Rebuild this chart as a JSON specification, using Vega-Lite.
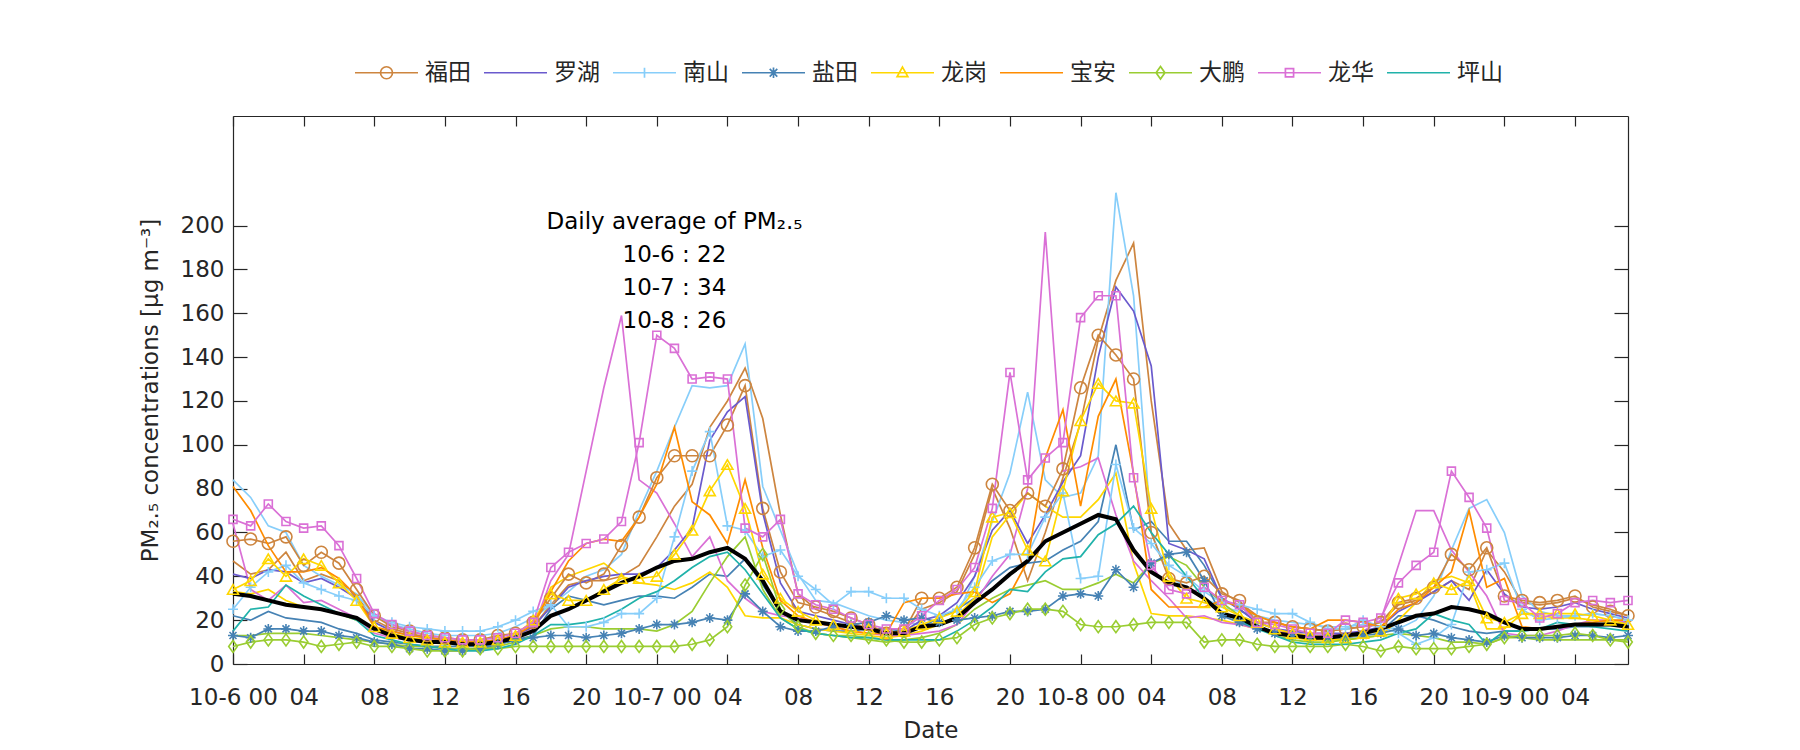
{
"$schema":"https://vega.github.io/schema/vega-lite/v6.json",
"width":1395,"height":548,"autosize":"none",
"padding":{"left":233,"top":116,"right":172,"bottom":86},
"background":"white",
"config":{"font":"DejaVu Sans","view":{"stroke":null},
"axis":{"domainColor":"#262626","tickColor":"#262626","labelColor":"#262626","titleColor":"#262626","labelFontSize":23,"titleFontSize":23,"titleFontWeight":"normal","grid":false,"labelFont":"DejaVu Sans","titleFont":"DejaVu Sans","domainWidth":1.2,"tickWidth":1.2}},
"datasets":{
"F1":[{"t":0,"v":56},{"t":1,"v":57},{"t":2,"v":55},{"t":3,"v":58},{"t":4,"v":45},{"t":5,"v":51},{"t":6,"v":46},{"t":7,"v":34},{"t":8,"v":22},{"t":9,"v":17},{"t":10,"v":15},{"t":11,"v":13},{"t":12,"v":12},{"t":13,"v":11},{"t":14,"v":11},{"t":15,"v":13},{"t":16,"v":14},{"t":17,"v":19},{"t":18,"v":30},{"t":19,"v":41},{"t":20,"v":37},{"t":21,"v":41},{"t":22,"v":54},{"t":23,"v":67},{"t":24,"v":85},{"t":25,"v":95},{"t":26,"v":95},{"t":27,"v":95},{"t":28,"v":109},{"t":29,"v":127},{"t":30,"v":71},{"t":31,"v":42},{"t":32,"v":28},{"t":33,"v":26},{"t":34,"v":24},{"t":35,"v":21},{"t":36,"v":18},{"t":37,"v":14},{"t":38,"v":15},{"t":39,"v":30},{"t":40,"v":30},{"t":41,"v":35},{"t":42,"v":53},{"t":43,"v":82},{"t":44,"v":70},{"t":45,"v":78},{"t":46,"v":72},{"t":47,"v":89},{"t":48,"v":126},{"t":49,"v":150},{"t":50,"v":141},{"t":51,"v":130},{"t":52,"v":60},{"t":53,"v":39},{"t":54,"v":37},{"t":55,"v":40},{"t":56,"v":32},{"t":57,"v":29},{"t":58,"v":19},{"t":59,"v":19},{"t":60,"v":17},{"t":61,"v":16},{"t":62,"v":15},{"t":63,"v":16},{"t":64,"v":17},{"t":65,"v":19},{"t":66,"v":28},{"t":67,"v":30},{"t":68,"v":35},{"t":69,"v":50},{"t":70,"v":43},{"t":71,"v":53},{"t":72,"v":31},{"t":73,"v":29},{"t":74,"v":28},{"t":75,"v":29},{"t":76,"v":31},{"t":77,"v":26},{"t":78,"v":24},{"t":79,"v":22}],
"F2":[{"t":0,"v":47},{"t":1,"v":41},{"t":2,"v":43},{"t":3,"v":51},{"t":4,"v":38},{"t":5,"v":41},{"t":6,"v":38},{"t":7,"v":31},{"t":8,"v":20},{"t":9,"v":16},{"t":10,"v":14},{"t":11,"v":12},{"t":12,"v":11},{"t":13,"v":10},{"t":14,"v":10},{"t":15,"v":11},{"t":16,"v":13},{"t":17,"v":17},{"t":18,"v":27},{"t":19,"v":36},{"t":20,"v":38},{"t":21,"v":38},{"t":22,"v":40},{"t":23,"v":45},{"t":24,"v":58},{"t":25,"v":72},{"t":26,"v":82},{"t":27,"v":108},{"t":28,"v":120},{"t":29,"v":135},{"t":30,"v":112},{"t":31,"v":68},{"t":32,"v":32},{"t":33,"v":25},{"t":34,"v":22},{"t":35,"v":19},{"t":36,"v":16},{"t":37,"v":14},{"t":38,"v":15},{"t":39,"v":25},{"t":40,"v":28},{"t":41,"v":33},{"t":42,"v":50},{"t":43,"v":80},{"t":44,"v":62},{"t":45,"v":38},{"t":46,"v":60},{"t":47,"v":85},{"t":48,"v":110},{"t":49,"v":148},{"t":50,"v":175},{"t":51,"v":192},{"t":52,"v":120},{"t":53,"v":64},{"t":54,"v":52},{"t":55,"v":53},{"t":56,"v":33},{"t":57,"v":28},{"t":58,"v":22},{"t":59,"v":19},{"t":60,"v":17},{"t":61,"v":16},{"t":62,"v":15},{"t":63,"v":16},{"t":64,"v":17},{"t":65,"v":19},{"t":66,"v":27},{"t":67,"v":29},{"t":68,"v":33},{"t":69,"v":38},{"t":70,"v":34},{"t":71,"v":52},{"t":72,"v":42},{"t":73,"v":28},{"t":74,"v":27},{"t":75,"v":28},{"t":76,"v":30},{"t":77,"v":27},{"t":78,"v":25},{"t":79,"v":22}],
"L":[{"t":0,"v":41},{"t":1,"v":39},{"t":2,"v":43},{"t":3,"v":42},{"t":4,"v":37},{"t":5,"v":39},{"t":6,"v":35},{"t":7,"v":30},{"t":8,"v":19},{"t":9,"v":15},{"t":10,"v":13},{"t":11,"v":12},{"t":12,"v":11},{"t":13,"v":10},{"t":14,"v":10},{"t":15,"v":11},{"t":16,"v":13},{"t":17,"v":17},{"t":18,"v":26},{"t":19,"v":35},{"t":20,"v":38},{"t":21,"v":40},{"t":22,"v":41},{"t":23,"v":41},{"t":24,"v":44},{"t":25,"v":52},{"t":26,"v":62},{"t":27,"v":102},{"t":28,"v":115},{"t":29,"v":122},{"t":30,"v":69},{"t":31,"v":37},{"t":32,"v":24},{"t":33,"v":22},{"t":34,"v":20},{"t":35,"v":18},{"t":36,"v":16},{"t":37,"v":14},{"t":38,"v":15},{"t":39,"v":20},{"t":40,"v":22},{"t":41,"v":28},{"t":42,"v":40},{"t":43,"v":61},{"t":44,"v":70},{"t":45,"v":55},{"t":46,"v":68},{"t":47,"v":83},{"t":48,"v":95},{"t":49,"v":140},{"t":50,"v":172},{"t":51,"v":161},{"t":52,"v":136},{"t":53,"v":55},{"t":54,"v":52},{"t":55,"v":48},{"t":56,"v":30},{"t":57,"v":25},{"t":58,"v":19},{"t":59,"v":16},{"t":60,"v":15},{"t":61,"v":14},{"t":62,"v":14},{"t":63,"v":14},{"t":64,"v":15},{"t":65,"v":17},{"t":66,"v":24},{"t":67,"v":28},{"t":68,"v":33},{"t":69,"v":38},{"t":70,"v":29},{"t":71,"v":43},{"t":72,"v":32},{"t":73,"v":26},{"t":74,"v":25},{"t":75,"v":26},{"t":76,"v":28},{"t":77,"v":25},{"t":78,"v":23},{"t":79,"v":21}],
"N1":[{"t":0,"v":25},{"t":1,"v":35},{"t":2,"v":42},{"t":3,"v":45},{"t":4,"v":37},{"t":5,"v":34},{"t":6,"v":31},{"t":7,"v":29},{"t":8,"v":22},{"t":9,"v":19},{"t":10,"v":17},{"t":11,"v":16},{"t":12,"v":15},{"t":13,"v":15},{"t":14,"v":15},{"t":15,"v":17},{"t":16,"v":20},{"t":17,"v":24},{"t":18,"v":27},{"t":19,"v":17},{"t":20,"v":17},{"t":21,"v":19},{"t":22,"v":23},{"t":23,"v":23},{"t":24,"v":30},{"t":25,"v":58},{"t":26,"v":88},{"t":27,"v":106},{"t":28,"v":63},{"t":29,"v":61},{"t":30,"v":49},{"t":31,"v":52},{"t":32,"v":40},{"t":33,"v":34},{"t":34,"v":27},{"t":35,"v":33},{"t":36,"v":33},{"t":37,"v":30},{"t":38,"v":30},{"t":39,"v":25},{"t":40,"v":22},{"t":41,"v":25},{"t":42,"v":35},{"t":43,"v":47},{"t":44,"v":50},{"t":45,"v":50},{"t":46,"v":67},{"t":47,"v":78},{"t":48,"v":39},{"t":49,"v":40},{"t":50,"v":91},{"t":51,"v":62},{"t":52,"v":55},{"t":53,"v":45},{"t":54,"v":40},{"t":55,"v":33},{"t":56,"v":28},{"t":57,"v":27},{"t":58,"v":25},{"t":59,"v":23},{"t":60,"v":23},{"t":61,"v":19},{"t":62,"v":16},{"t":63,"v":16},{"t":64,"v":20},{"t":65,"v":17},{"t":66,"v":14},{"t":67,"v":9},{"t":68,"v":12},{"t":69,"v":18},{"t":70,"v":42},{"t":71,"v":43},{"t":72,"v":46},{"t":73,"v":25},{"t":74,"v":20},{"t":75,"v":21},{"t":76,"v":22},{"t":77,"v":23},{"t":78,"v":22},{"t":79,"v":20}],
"N2":[{"t":0,"v":84},{"t":1,"v":76},{"t":2,"v":63},{"t":3,"v":60},{"t":4,"v":45},{"t":5,"v":40},{"t":6,"v":36},{"t":7,"v":32},{"t":8,"v":22},{"t":9,"v":18},{"t":10,"v":16},{"t":11,"v":14},{"t":12,"v":13},{"t":13,"v":13},{"t":14,"v":13},{"t":15,"v":14},{"t":16,"v":17},{"t":17,"v":21},{"t":18,"v":27},{"t":19,"v":33},{"t":20,"v":40},{"t":21,"v":43},{"t":22,"v":50},{"t":23,"v":70},{"t":24,"v":88},{"t":25,"v":108},{"t":26,"v":127},{"t":27,"v":126},{"t":28,"v":127},{"t":29,"v":146},{"t":30,"v":81},{"t":31,"v":61},{"t":32,"v":41},{"t":33,"v":29},{"t":34,"v":28},{"t":35,"v":25},{"t":36,"v":22},{"t":37,"v":20},{"t":38,"v":19},{"t":39,"v":18},{"t":40,"v":18},{"t":41,"v":22},{"t":42,"v":40},{"t":43,"v":65},{"t":44,"v":87},{"t":45,"v":124},{"t":46,"v":84},{"t":47,"v":76},{"t":48,"v":78},{"t":49,"v":95},{"t":50,"v":215},{"t":51,"v":168},{"t":52,"v":60},{"t":53,"v":40},{"t":54,"v":35},{"t":55,"v":30},{"t":56,"v":26},{"t":57,"v":24},{"t":58,"v":22},{"t":59,"v":20},{"t":60,"v":19},{"t":61,"v":18},{"t":62,"v":17},{"t":63,"v":17},{"t":64,"v":18},{"t":65,"v":17},{"t":66,"v":16},{"t":67,"v":20},{"t":68,"v":31},{"t":69,"v":52},{"t":70,"v":71},{"t":71,"v":75},{"t":72,"v":60},{"t":73,"v":31},{"t":74,"v":24},{"t":75,"v":22},{"t":76,"v":22},{"t":77,"v":23},{"t":78,"v":22},{"t":79,"v":20}],
"Y1":[{"t":0,"v":13},{"t":1,"v":12},{"t":2,"v":16},{"t":3,"v":16},{"t":4,"v":15},{"t":5,"v":15},{"t":6,"v":13},{"t":7,"v":12},{"t":8,"v":10},{"t":9,"v":9},{"t":10,"v":7},{"t":11,"v":7},{"t":12,"v":6},{"t":13,"v":6},{"t":14,"v":7},{"t":15,"v":9},{"t":16,"v":11},{"t":17,"v":12},{"t":18,"v":13},{"t":19,"v":13},{"t":20,"v":12},{"t":21,"v":13},{"t":22,"v":14},{"t":23,"v":16},{"t":24,"v":18},{"t":25,"v":18},{"t":26,"v":19},{"t":27,"v":21},{"t":28,"v":20},{"t":29,"v":32},{"t":30,"v":24},{"t":31,"v":17},{"t":32,"v":15},{"t":33,"v":15},{"t":34,"v":17},{"t":35,"v":18},{"t":36,"v":19},{"t":37,"v":22},{"t":38,"v":20},{"t":39,"v":21},{"t":40,"v":19},{"t":41,"v":20},{"t":42,"v":21},{"t":43,"v":22},{"t":44,"v":24},{"t":45,"v":24},{"t":46,"v":25},{"t":47,"v":31},{"t":48,"v":32},{"t":49,"v":31},{"t":50,"v":43},{"t":51,"v":35},{"t":52,"v":46},{"t":53,"v":50},{"t":54,"v":51},{"t":55,"v":38},{"t":56,"v":22},{"t":57,"v":19},{"t":58,"v":16},{"t":59,"v":14},{"t":60,"v":13},{"t":61,"v":12},{"t":62,"v":12},{"t":63,"v":12},{"t":64,"v":13},{"t":65,"v":14},{"t":66,"v":16},{"t":67,"v":13},{"t":68,"v":14},{"t":69,"v":12},{"t":70,"v":11},{"t":71,"v":10},{"t":72,"v":13},{"t":73,"v":12},{"t":74,"v":12},{"t":75,"v":12},{"t":76,"v":13},{"t":77,"v":13},{"t":78,"v":12},{"t":79,"v":13}],
"Y2":[{"t":0,"v":22},{"t":1,"v":20},{"t":2,"v":24},{"t":3,"v":21},{"t":4,"v":20},{"t":5,"v":19},{"t":6,"v":16},{"t":7,"v":14},{"t":8,"v":11},{"t":9,"v":10},{"t":10,"v":9},{"t":11,"v":8},{"t":12,"v":8},{"t":13,"v":8},{"t":14,"v":8},{"t":15,"v":9},{"t":16,"v":11},{"t":17,"v":13},{"t":18,"v":25},{"t":19,"v":31},{"t":20,"v":29},{"t":21,"v":27},{"t":22,"v":29},{"t":23,"v":31},{"t":24,"v":31},{"t":25,"v":30},{"t":26,"v":35},{"t":27,"v":41},{"t":28,"v":40},{"t":29,"v":48},{"t":30,"v":36},{"t":31,"v":24},{"t":32,"v":18},{"t":33,"v":16},{"t":34,"v":15},{"t":35,"v":15},{"t":36,"v":16},{"t":37,"v":16},{"t":38,"v":15},{"t":39,"v":17},{"t":40,"v":21},{"t":41,"v":25},{"t":42,"v":30},{"t":43,"v":38},{"t":44,"v":44},{"t":45,"v":46},{"t":46,"v":47},{"t":47,"v":52},{"t":48,"v":56},{"t":49,"v":65},{"t":50,"v":100},{"t":51,"v":61},{"t":52,"v":65},{"t":53,"v":56},{"t":54,"v":56},{"t":55,"v":45},{"t":56,"v":30},{"t":57,"v":25},{"t":58,"v":19},{"t":59,"v":16},{"t":60,"v":14},{"t":61,"v":13},{"t":62,"v":13},{"t":63,"v":13},{"t":64,"v":14},{"t":65,"v":15},{"t":66,"v":22},{"t":67,"v":22},{"t":68,"v":20},{"t":69,"v":17},{"t":70,"v":15},{"t":71,"v":14},{"t":72,"v":15},{"t":73,"v":15},{"t":74,"v":16},{"t":75,"v":16},{"t":76,"v":17},{"t":77,"v":17},{"t":78,"v":18},{"t":79,"v":19}],
"G1":[{"t":0,"v":34},{"t":1,"v":38},{"t":2,"v":48},{"t":3,"v":40},{"t":4,"v":48},{"t":5,"v":45},{"t":6,"v":37},{"t":7,"v":29},{"t":8,"v":17},{"t":9,"v":14},{"t":10,"v":12},{"t":11,"v":11},{"t":12,"v":10},{"t":13,"v":10},{"t":14,"v":10},{"t":15,"v":11},{"t":16,"v":13},{"t":17,"v":20},{"t":18,"v":32},{"t":19,"v":29},{"t":20,"v":29},{"t":21,"v":34},{"t":22,"v":39},{"t":23,"v":39},{"t":24,"v":40},{"t":25,"v":50},{"t":26,"v":61},{"t":27,"v":79},{"t":28,"v":91},{"t":29,"v":71},{"t":30,"v":41},{"t":31,"v":30},{"t":32,"v":24},{"t":33,"v":20},{"t":34,"v":18},{"t":35,"v":17},{"t":36,"v":16},{"t":37,"v":14},{"t":38,"v":15},{"t":39,"v":18},{"t":40,"v":21},{"t":41,"v":24},{"t":42,"v":33},{"t":43,"v":67},{"t":44,"v":69},{"t":45,"v":52},{"t":46,"v":47},{"t":47,"v":79},{"t":48,"v":111},{"t":49,"v":128},{"t":50,"v":120},{"t":51,"v":119},{"t":52,"v":71},{"t":53,"v":40},{"t":54,"v":30},{"t":55,"v":28},{"t":56,"v":26},{"t":57,"v":22},{"t":58,"v":19},{"t":59,"v":16},{"t":60,"v":14},{"t":61,"v":13},{"t":62,"v":12},{"t":63,"v":12},{"t":64,"v":14},{"t":65,"v":15},{"t":66,"v":30},{"t":67,"v":32},{"t":68,"v":37},{"t":69,"v":34},{"t":70,"v":38},{"t":71,"v":21},{"t":72,"v":19},{"t":73,"v":23},{"t":74,"v":23},{"t":75,"v":23},{"t":76,"v":23},{"t":77,"v":22},{"t":78,"v":20},{"t":79,"v":18}],
"G2":[{"t":0,"v":33},{"t":1,"v":32},{"t":2,"v":34},{"t":3,"v":29},{"t":4,"v":26},{"t":5,"v":25},{"t":6,"v":23},{"t":7,"v":20},{"t":8,"v":16},{"t":9,"v":13},{"t":10,"v":11},{"t":11,"v":10},{"t":12,"v":9},{"t":13,"v":9},{"t":14,"v":9},{"t":15,"v":10},{"t":16,"v":12},{"t":17,"v":16},{"t":18,"v":35},{"t":19,"v":40},{"t":20,"v":43},{"t":21,"v":46},{"t":22,"v":40},{"t":23,"v":37},{"t":24,"v":36},{"t":25,"v":34},{"t":26,"v":37},{"t":27,"v":42},{"t":28,"v":35},{"t":29,"v":22},{"t":30,"v":21},{"t":31,"v":21},{"t":32,"v":18},{"t":33,"v":16},{"t":34,"v":15},{"t":35,"v":14},{"t":36,"v":13},{"t":37,"v":12},{"t":38,"v":13},{"t":39,"v":15},{"t":40,"v":18},{"t":41,"v":22},{"t":42,"v":30},{"t":43,"v":58},{"t":44,"v":68},{"t":45,"v":78},{"t":46,"v":72},{"t":47,"v":67},{"t":48,"v":67},{"t":49,"v":75},{"t":50,"v":87},{"t":51,"v":46},{"t":52,"v":23},{"t":53,"v":22},{"t":54,"v":22},{"t":55,"v":21},{"t":56,"v":20},{"t":57,"v":18},{"t":58,"v":16},{"t":59,"v":14},{"t":60,"v":12},{"t":61,"v":11},{"t":62,"v":11},{"t":63,"v":11},{"t":64,"v":12},{"t":65,"v":13},{"t":66,"v":20},{"t":67,"v":28},{"t":68,"v":38},{"t":69,"v":40},{"t":70,"v":37},{"t":71,"v":16},{"t":72,"v":16},{"t":73,"v":23},{"t":74,"v":22},{"t":75,"v":21},{"t":76,"v":21},{"t":77,"v":20},{"t":78,"v":19},{"t":79,"v":18}],
"B":[{"t":0,"v":81},{"t":1,"v":70},{"t":2,"v":54},{"t":3,"v":42},{"t":4,"v":42},{"t":5,"v":44},{"t":6,"v":39},{"t":7,"v":31},{"t":8,"v":17},{"t":9,"v":15},{"t":10,"v":13},{"t":11,"v":12},{"t":12,"v":11},{"t":13,"v":10},{"t":14,"v":10},{"t":15,"v":11},{"t":16,"v":13},{"t":17,"v":18},{"t":18,"v":33},{"t":19,"v":47},{"t":20,"v":55},{"t":21,"v":57},{"t":22,"v":56},{"t":23,"v":67},{"t":24,"v":82},{"t":25,"v":108},{"t":26,"v":74},{"t":27,"v":68},{"t":28,"v":55},{"t":29,"v":84},{"t":30,"v":53},{"t":31,"v":29},{"t":32,"v":22},{"t":33,"v":19},{"t":34,"v":17},{"t":35,"v":15},{"t":36,"v":14},{"t":37,"v":14},{"t":38,"v":28},{"t":39,"v":30},{"t":40,"v":30},{"t":41,"v":32},{"t":42,"v":33},{"t":43,"v":28},{"t":44,"v":32},{"t":45,"v":47},{"t":46,"v":94},{"t":47,"v":116},{"t":48,"v":72},{"t":49,"v":113},{"t":50,"v":130},{"t":51,"v":87},{"t":52,"v":34},{"t":53,"v":26},{"t":54,"v":26},{"t":55,"v":26},{"t":56,"v":29},{"t":57,"v":26},{"t":58,"v":22},{"t":59,"v":19},{"t":60,"v":17},{"t":61,"v":16},{"t":62,"v":20},{"t":63,"v":20},{"t":64,"v":19},{"t":65,"v":17},{"t":66,"v":25},{"t":67,"v":28},{"t":68,"v":35},{"t":69,"v":42},{"t":70,"v":70},{"t":71,"v":35},{"t":72,"v":39},{"t":73,"v":17},{"t":74,"v":16},{"t":75,"v":17},{"t":76,"v":18},{"t":77,"v":19},{"t":78,"v":20},{"t":79,"v":20}],
"D1":[{"t":0,"v":8},{"t":1,"v":10},{"t":2,"v":11},{"t":3,"v":11},{"t":4,"v":10},{"t":5,"v":8},{"t":6,"v":9},{"t":7,"v":10},{"t":8,"v":8},{"t":9,"v":8},{"t":10,"v":7},{"t":11,"v":6},{"t":12,"v":6},{"t":13,"v":6},{"t":14,"v":7},{"t":15,"v":7},{"t":16,"v":8},{"t":17,"v":8},{"t":18,"v":8},{"t":19,"v":8},{"t":20,"v":8},{"t":21,"v":8},{"t":22,"v":8},{"t":23,"v":8},{"t":24,"v":8},{"t":25,"v":8},{"t":26,"v":9},{"t":27,"v":11},{"t":28,"v":17},{"t":29,"v":36},{"t":30,"v":50},{"t":31,"v":25},{"t":32,"v":17},{"t":33,"v":14},{"t":34,"v":13},{"t":35,"v":13},{"t":36,"v":12},{"t":37,"v":11},{"t":38,"v":10},{"t":39,"v":10},{"t":40,"v":11},{"t":41,"v":12},{"t":42,"v":18},{"t":43,"v":21},{"t":44,"v":23},{"t":45,"v":25},{"t":46,"v":25},{"t":47,"v":24},{"t":48,"v":18},{"t":49,"v":17},{"t":50,"v":17},{"t":51,"v":18},{"t":52,"v":19},{"t":53,"v":19},{"t":54,"v":19},{"t":55,"v":10},{"t":56,"v":11},{"t":57,"v":11},{"t":58,"v":9},{"t":59,"v":8},{"t":60,"v":8},{"t":61,"v":8},{"t":62,"v":8},{"t":63,"v":9},{"t":64,"v":8},{"t":65,"v":6},{"t":66,"v":8},{"t":67,"v":7},{"t":68,"v":7},{"t":69,"v":7},{"t":70,"v":8},{"t":71,"v":9},{"t":72,"v":12},{"t":73,"v":13},{"t":74,"v":13},{"t":75,"v":13},{"t":76,"v":14},{"t":77,"v":13},{"t":78,"v":11},{"t":79,"v":10}],
"D2":[{"t":0,"v":13},{"t":1,"v":13},{"t":2,"v":14},{"t":3,"v":14},{"t":4,"v":14},{"t":5,"v":13},{"t":6,"v":12},{"t":7,"v":11},{"t":8,"v":10},{"t":9,"v":9},{"t":10,"v":8},{"t":11,"v":8},{"t":12,"v":7},{"t":13,"v":7},{"t":14,"v":7},{"t":15,"v":8},{"t":16,"v":10},{"t":17,"v":13},{"t":18,"v":16},{"t":19,"v":17},{"t":20,"v":17},{"t":21,"v":16},{"t":22,"v":16},{"t":23,"v":16},{"t":24,"v":15},{"t":25,"v":18},{"t":26,"v":24},{"t":27,"v":37},{"t":28,"v":49},{"t":29,"v":58},{"t":30,"v":34},{"t":31,"v":21},{"t":32,"v":16},{"t":33,"v":14},{"t":34,"v":13},{"t":35,"v":12},{"t":36,"v":11},{"t":37,"v":10},{"t":38,"v":11},{"t":39,"v":12},{"t":40,"v":14},{"t":41,"v":18},{"t":42,"v":25},{"t":43,"v":30},{"t":44,"v":34},{"t":45,"v":36},{"t":46,"v":38},{"t":47,"v":34},{"t":48,"v":34},{"t":49,"v":37},{"t":50,"v":41},{"t":51,"v":37},{"t":52,"v":46},{"t":53,"v":49},{"t":54,"v":45},{"t":55,"v":35},{"t":56,"v":28},{"t":57,"v":22},{"t":58,"v":18},{"t":59,"v":13},{"t":60,"v":11},{"t":61,"v":10},{"t":62,"v":10},{"t":63,"v":11},{"t":64,"v":12},{"t":65,"v":13},{"t":66,"v":14},{"t":67,"v":13},{"t":68,"v":12},{"t":69,"v":10},{"t":70,"v":10},{"t":71,"v":9},{"t":72,"v":12},{"t":73,"v":12},{"t":74,"v":11},{"t":75,"v":11},{"t":76,"v":11},{"t":77,"v":11},{"t":78,"v":11},{"t":79,"v":11}],
"H1":[{"t":0,"v":66},{"t":1,"v":63},{"t":2,"v":73},{"t":3,"v":65},{"t":4,"v":62},{"t":5,"v":63},{"t":6,"v":54},{"t":7,"v":39},{"t":8,"v":23},{"t":9,"v":18},{"t":10,"v":15},{"t":11,"v":13},{"t":12,"v":12},{"t":13,"v":11},{"t":14,"v":11},{"t":15,"v":12},{"t":16,"v":14},{"t":17,"v":19},{"t":18,"v":44},{"t":19,"v":51},{"t":20,"v":55},{"t":21,"v":57},{"t":22,"v":65},{"t":23,"v":101},{"t":24,"v":150},{"t":25,"v":144},{"t":26,"v":130},{"t":27,"v":131},{"t":28,"v":130},{"t":29,"v":62},{"t":30,"v":58},{"t":31,"v":66},{"t":32,"v":32},{"t":33,"v":27},{"t":34,"v":25},{"t":35,"v":21},{"t":36,"v":18},{"t":37,"v":16},{"t":38,"v":16},{"t":39,"v":22},{"t":40,"v":29},{"t":41,"v":34},{"t":42,"v":44},{"t":43,"v":71},{"t":44,"v":133},{"t":45,"v":84},{"t":46,"v":94},{"t":47,"v":101},{"t":48,"v":158},{"t":49,"v":168},{"t":50,"v":168},{"t":51,"v":85},{"t":52,"v":45},{"t":53,"v":34},{"t":54,"v":32},{"t":55,"v":35},{"t":56,"v":29},{"t":57,"v":27},{"t":58,"v":19},{"t":59,"v":18},{"t":60,"v":16},{"t":61,"v":14},{"t":62,"v":14},{"t":63,"v":20},{"t":64,"v":19},{"t":65,"v":21},{"t":66,"v":37},{"t":67,"v":45},{"t":68,"v":51},{"t":69,"v":88},{"t":70,"v":76},{"t":71,"v":62},{"t":72,"v":29},{"t":73,"v":28},{"t":74,"v":21},{"t":75,"v":23},{"t":76,"v":28},{"t":77,"v":29},{"t":78,"v":28},{"t":79,"v":29}],
"H2":[{"t":0,"v":64},{"t":1,"v":34},{"t":2,"v":29},{"t":3,"v":36},{"t":4,"v":28},{"t":5,"v":29},{"t":6,"v":25},{"t":7,"v":21},{"t":8,"v":14},{"t":9,"v":12},{"t":10,"v":11},{"t":11,"v":10},{"t":12,"v":10},{"t":13,"v":9},{"t":14,"v":9},{"t":15,"v":10},{"t":16,"v":12},{"t":17,"v":16},{"t":18,"v":38},{"t":19,"v":50},{"t":20,"v":88},{"t":21,"v":126},{"t":22,"v":159},{"t":23,"v":84},{"t":24,"v":78},{"t":25,"v":64},{"t":26,"v":49},{"t":27,"v":58},{"t":28,"v":38},{"t":29,"v":30},{"t":30,"v":24},{"t":31,"v":22},{"t":32,"v":21},{"t":33,"v":19},{"t":34,"v":17},{"t":35,"v":15},{"t":36,"v":14},{"t":37,"v":13},{"t":38,"v":13},{"t":39,"v":14},{"t":40,"v":15},{"t":41,"v":18},{"t":42,"v":28},{"t":43,"v":40},{"t":44,"v":50},{"t":45,"v":80},{"t":46,"v":197},{"t":47,"v":88},{"t":48,"v":90},{"t":49,"v":94},{"t":50,"v":68},{"t":51,"v":47},{"t":52,"v":38},{"t":53,"v":30},{"t":54,"v":21},{"t":55,"v":22},{"t":56,"v":19},{"t":57,"v":18},{"t":58,"v":16},{"t":59,"v":15},{"t":60,"v":14},{"t":61,"v":13},{"t":62,"v":13},{"t":63,"v":14},{"t":64,"v":15},{"t":65,"v":20},{"t":66,"v":45},{"t":67,"v":70},{"t":68,"v":70},{"t":69,"v":52},{"t":70,"v":42},{"t":71,"v":31},{"t":72,"v":14},{"t":73,"v":13},{"t":74,"v":13},{"t":75,"v":15},{"t":76,"v":18},{"t":77,"v":20},{"t":78,"v":20},{"t":79,"v":19}],
"P":[{"t":0,"v":15},{"t":1,"v":25},{"t":2,"v":26},{"t":3,"v":36},{"t":4,"v":31},{"t":5,"v":27},{"t":6,"v":23},{"t":7,"v":20},{"t":8,"v":13},{"t":9,"v":11},{"t":10,"v":9},{"t":11,"v":8},{"t":12,"v":7},{"t":13,"v":6},{"t":14,"v":6},{"t":15,"v":7},{"t":16,"v":9},{"t":17,"v":13},{"t":18,"v":18},{"t":19,"v":18},{"t":20,"v":19},{"t":21,"v":21},{"t":22,"v":25},{"t":23,"v":30},{"t":24,"v":33},{"t":25,"v":38},{"t":26,"v":44},{"t":27,"v":49},{"t":28,"v":51},{"t":29,"v":43},{"t":30,"v":32},{"t":31,"v":21},{"t":32,"v":16},{"t":33,"v":14},{"t":34,"v":13},{"t":35,"v":12},{"t":36,"v":12},{"t":37,"v":11},{"t":38,"v":11},{"t":39,"v":11},{"t":40,"v":11},{"t":41,"v":15},{"t":42,"v":20},{"t":43,"v":26},{"t":44,"v":34},{"t":45,"v":33},{"t":46,"v":42},{"t":47,"v":48},{"t":48,"v":49},{"t":49,"v":59},{"t":50,"v":64},{"t":51,"v":72},{"t":52,"v":60},{"t":53,"v":50},{"t":54,"v":40},{"t":55,"v":30},{"t":56,"v":23},{"t":57,"v":20},{"t":58,"v":16},{"t":59,"v":13},{"t":60,"v":10},{"t":61,"v":9},{"t":62,"v":9},{"t":63,"v":9},{"t":64,"v":10},{"t":65,"v":11},{"t":66,"v":14},{"t":67,"v":16},{"t":68,"v":23},{"t":69,"v":20},{"t":70,"v":18},{"t":71,"v":9},{"t":72,"v":15},{"t":73,"v":15},{"t":74,"v":16},{"t":75,"v":19},{"t":76,"v":18},{"t":77,"v":17},{"t":78,"v":16},{"t":79,"v":15}],
"AVG":[{"t":0,"v":32},{"t":1,"v":31},{"t":2,"v":29},{"t":3,"v":27},{"t":4,"v":26},{"t":5,"v":25},{"t":6,"v":23},{"t":7,"v":21},{"t":8,"v":16},{"t":9,"v":13},{"t":10,"v":11},{"t":11,"v":10},{"t":12,"v":10},{"t":13,"v":9},{"t":14,"v":9},{"t":15,"v":10},{"t":16,"v":12},{"t":17,"v":15},{"t":18,"v":22},{"t":19,"v":25},{"t":20,"v":29},{"t":21,"v":33},{"t":22,"v":37},{"t":23,"v":40},{"t":24,"v":44},{"t":25,"v":47},{"t":26,"v":48},{"t":27,"v":51},{"t":28,"v":53},{"t":29,"v":48},{"t":30,"v":38},{"t":31,"v":24},{"t":32,"v":20},{"t":33,"v":19},{"t":34,"v":18},{"t":35,"v":17},{"t":36,"v":16},{"t":37,"v":14},{"t":38,"v":14},{"t":39,"v":17},{"t":40,"v":18},{"t":41,"v":21},{"t":42,"v":28},{"t":43,"v":34},{"t":44,"v":41},{"t":45,"v":47},{"t":46,"v":56},{"t":47,"v":60},{"t":48,"v":64},{"t":49,"v":68},{"t":50,"v":66},{"t":51,"v":52},{"t":52,"v":42},{"t":53,"v":37},{"t":54,"v":35},{"t":55,"v":30},{"t":56,"v":23},{"t":57,"v":21},{"t":58,"v":17},{"t":59,"v":14},{"t":60,"v":13},{"t":61,"v":12},{"t":62,"v":12},{"t":63,"v":13},{"t":64,"v":14},{"t":65,"v":16},{"t":66,"v":19},{"t":67,"v":22},{"t":68,"v":23},{"t":69,"v":26},{"t":70,"v":25},{"t":71,"v":23},{"t":72,"v":19},{"t":73,"v":16},{"t":74,"v":16},{"t":75,"v":17},{"t":76,"v":18},{"t":77,"v":18},{"t":78,"v":18},{"t":79,"v":17}],
"NOTE":[{"line":"Daily average of PM₂.₅","k":0},{"line":"10-6 : 22","k":1},{"line":"10-7 : 34","k":2},{"line":"10-8 : 26","k":3}]
},
"layer":[
{"encoding":{
"x":{"field":"t","type":"quantitative","scale":{"domain":[0,79],"nice":false,"zero":false},
"axis":{"values":[0,4,8,12,16,20,24,28,32,36,40,44,48,52,56,60,64,68,72,76],"labelExpr":"datum.value % 24 == 0 ? '10-' + (6 + datum.value / 24) + ' 00' : (datum.value % 24 < 10 ? '0' : '') + (datum.value % 24)","title":"Date","tickSize":-10,"labelPadding":32,"labelFlush":false,"labelOverlap":false,"titlePadding":10}},
"y":{"field":"v","type":"quantitative","scale":{"domain":[0,250],"nice":false},
"axis":{"values":[0,20,40,60,80,100,120,140,160,180,200],"title":"PM₂.₅ concentrations [μg m⁻³]","tickSize":-14,"labelPadding":23,"titlePadding":18}}},
"layer":[
{"data":{"name":"F2"},"mark":{"type":"line","strokeWidth":1.7},"encoding":{"color":{"datum":"福田","type":"nominal",
"scale":{"domain":["福田","罗湖","南山","盐田","龙岗","宝安","大鹏","龙华","坪山"],"range":["#CD853F","#6A5ACD","#87CEFA","#4682B4","#FFD700","#FF8C00","#9ACD32","#DA70D6","#20B2AA"]},
"legend":{"orient":"none","legendX":121,"legendY":-76,"direction":"horizontal","title":null,"padding":0,"labelFont":"Noto Sans CJK SC","labelFontSize":23,"labelColor":"#262626","labelOffset":6,"columnPadding":9,"symbolStrokeWidth":1.7,"symbolSize":3969,
"encode":{"symbols":{"update":{"fill":{"value":"transparent"},"shape":{"signal":"datum.value == '福田' ? 'M-1,0H1M0.19,0A0.19,0.19 0 1,1 -0.19,0A0.19,0.19 0 1,1 0.19,0Z' : datum.value == '南山' ? 'M-1,0H1M0,-0.16V0.16' : datum.value == '盐田' ? 'M-1,0H1M0,-0.17V0.17M-0.12,-0.12L0.12,0.12M-0.12,0.12L0.12,-0.12M-0.17,0H0.17' : datum.value == '龙岗' ? 'M-1,0H1M0,-0.18L0.17,0.12L-0.17,0.12Z' : datum.value == '大鹏' ? 'M-1,0H1M0,-0.2L0.14,0L0,0.2L-0.14,0Z' : datum.value == '龙华' ? 'M-1,0H1M-0.13,-0.13H0.13V0.13H-0.13Z' : 'M-1,0H1'"}}}}}}}},
{"data":{"name":"N2"},"mark":{"type":"line","strokeWidth":1.7},"encoding":{"color":{"datum":"南山","type":"nominal"}}},
{"data":{"name":"Y2"},"mark":{"type":"line","strokeWidth":1.7},"encoding":{"color":{"datum":"盐田","type":"nominal"}}},
{"data":{"name":"G2"},"mark":{"type":"line","strokeWidth":1.7},"encoding":{"color":{"datum":"龙岗","type":"nominal"}}},
{"data":{"name":"D2"},"mark":{"type":"line","strokeWidth":1.7},"encoding":{"color":{"datum":"大鹏","type":"nominal"}}},
{"data":{"name":"H2"},"mark":{"type":"line","strokeWidth":1.7},"encoding":{"color":{"datum":"龙华","type":"nominal"}}},
{"data":{"name":"F1"},"mark":{"type":"line","strokeWidth":1.7},"encoding":{"color":{"datum":"福田","type":"nominal"}}},
{"data":{"name":"L"},"mark":{"type":"line","strokeWidth":1.7},"encoding":{"color":{"datum":"罗湖","type":"nominal"}}},
{"data":{"name":"N1"},"mark":{"type":"line","strokeWidth":1.7},"encoding":{"color":{"datum":"南山","type":"nominal"}}},
{"data":{"name":"Y1"},"mark":{"type":"line","strokeWidth":1.7},"encoding":{"color":{"datum":"盐田","type":"nominal"}}},
{"data":{"name":"G1"},"mark":{"type":"line","strokeWidth":1.7},"encoding":{"color":{"datum":"龙岗","type":"nominal"}}},
{"data":{"name":"B"},"mark":{"type":"line","strokeWidth":1.7},"encoding":{"color":{"datum":"宝安","type":"nominal"}}},
{"data":{"name":"D1"},"mark":{"type":"line","strokeWidth":1.7},"encoding":{"color":{"datum":"大鹏","type":"nominal"}}},
{"data":{"name":"H1"},"mark":{"type":"line","strokeWidth":1.7},"encoding":{"color":{"datum":"龙华","type":"nominal"}}},
{"data":{"name":"P"},"mark":{"type":"line","strokeWidth":1.7},"encoding":{"color":{"datum":"坪山","type":"nominal"}}},
{"data":{"name":"AVG"},"mark":{"type":"line","strokeWidth":4,"color":"black"}},
{"data":{"name":"F1"},"mark":{"type":"point","shape":"circle","size":144,"filled":false,"color":"#CD853F","strokeWidth":1.6,"opacity":1}},
{"data":{"name":"N1"},"mark":{"type":"point","shape":"M-1,0H1M0,-1V1","size":100,"filled":false,"color":"#87CEFA","strokeWidth":1.6,"opacity":1}},
{"data":{"name":"Y1"},"mark":{"type":"point","shape":"M-1,0H1M0,-1V1M-0.7,-0.7L0.7,0.7M-0.7,0.7L0.7,-0.7","size":100,"filled":false,"color":"#4682B4","strokeWidth":1.6,"opacity":1}},
{"data":{"name":"G1"},"mark":{"type":"point","shape":"triangle-up","size":121,"filled":false,"color":"#FFD700","strokeWidth":1.6,"opacity":1}},
{"data":{"name":"D1"},"mark":{"type":"point","shape":"M0,-1L0.72,0L0,1L-0.72,0Z","size":144,"filled":false,"color":"#9ACD32","strokeWidth":1.6,"opacity":1}},
{"data":{"name":"H1"},"mark":{"type":"point","shape":"square","size":64,"filled":false,"color":"#DA70D6","strokeWidth":1.6,"opacity":1}}
]},
{"data":{"name":"AVG"},"mark":{"type":"point","opacity":0},
"encoding":{"x":{"field":"t","type":"quantitative","scale":{"domain":[0,79],"nice":false,"zero":false},"axis":{"orient":"top","values":[0,4,8,12,16,20,24,28,32,36,40,44,48,52,56,60,64,68,72,76],"labels":false,"title":null,"tickSize":-10}},
"y":{"field":"v","type":"quantitative","scale":{"domain":[0,250],"nice":false},"axis":{"orient":"right","values":[0,20,40,60,80,100,120,140,160,180,200],"labels":false,"title":null,"tickSize":-14}}}},
{"data":{"name":"NOTE"},"transform":[{"filter":"datum.k == 0"}],"mark":{"type":"text","align":"center","baseline":"alphabetic","fontSize":23,"color":"black","font":"DejaVu Sans"},
"encoding":{"x":{"datum":25,"type":"quantitative","scale":{"domain":[0,79],"nice":false,"zero":false},"axis":null},"y":{"datum":198.4,"type":"quantitative","scale":{"domain":[0,250],"nice":false},"axis":null},"text":{"field":"line","type":"nominal"}}},
{"data":{"name":"NOTE"},"transform":[{"filter":"datum.k == 1"}],"mark":{"type":"text","align":"center","baseline":"alphabetic","fontSize":23,"color":"black","font":"DejaVu Sans"},
"encoding":{"x":{"datum":25,"type":"quantitative","scale":{"domain":[0,79],"nice":false,"zero":false},"axis":null},"y":{"datum":183.3,"type":"quantitative","scale":{"domain":[0,250],"nice":false},"axis":null},"text":{"field":"line","type":"nominal"}}},
{"data":{"name":"NOTE"},"transform":[{"filter":"datum.k == 2"}],"mark":{"type":"text","align":"center","baseline":"alphabetic","fontSize":23,"color":"black","font":"DejaVu Sans"},
"encoding":{"x":{"datum":25,"type":"quantitative","scale":{"domain":[0,79],"nice":false,"zero":false},"axis":null},"y":{"datum":168.3,"type":"quantitative","scale":{"domain":[0,250],"nice":false},"axis":null},"text":{"field":"line","type":"nominal"}}},
{"data":{"name":"NOTE"},"transform":[{"filter":"datum.k == 3"}],"mark":{"type":"text","align":"center","baseline":"alphabetic","fontSize":23,"color":"black","font":"DejaVu Sans"},
"encoding":{"x":{"datum":25,"type":"quantitative","scale":{"domain":[0,79],"nice":false,"zero":false},"axis":null},"y":{"datum":153.2,"type":"quantitative","scale":{"domain":[0,250],"nice":false},"axis":null},"text":{"field":"line","type":"nominal"}}}
],
"resolve":{"axis":{"x":"independent","y":"independent"}}
}
